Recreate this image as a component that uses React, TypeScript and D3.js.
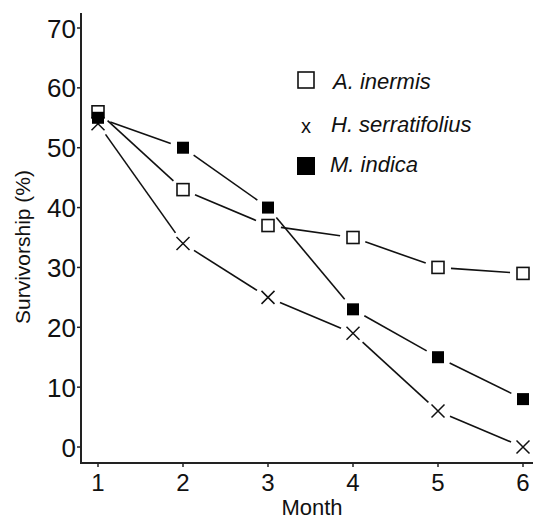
import React from "react";
import * as d3 from "d3";

const months = [1, 2, 3, 4, 5, 6];
const inermis = [56, 43, 37, 35, 30, 29];
const serratifolius = [54, 34, 25, 19, 6, 0];
const indica = [55, 50, 40, 23, 15, 8];
const yTicks = [0, 10, 20, 30, 40, 50, 60, 70];
const legendLabels = ["A. inermis", "H. serratifolius", "M. indica"];

const W = 533, H = 520;
const x = d3.scaleLinear().domain([1, 6]).range([98, 523]);
const y = d3.scaleLinear().domain([0, 70]).range([447, 28]);
const FONT = "Liberation Sans, Arial, sans-serif";

function segs(vals: number[], gap: number) {
  const out: [number, number, number, number][] = [];
  for (let i = 0; i < vals.length - 1; i++) {
    const x1 = x(months[i]), y1 = y(vals[i]);
    const x2 = x(months[i + 1]), y2 = y(vals[i + 1]);
    const dx = x2 - x1, dy = y2 - y1;
    const L = Math.hypot(dx, dy);
    const ux = dx / L, uy = dy / L;
    out.push([x1 + ux * gap, y1 + uy * gap, x2 - ux * gap, y2 - uy * gap]);
  }
  return out;
}

function Lines({ vals }: { vals: number[] }) {
  return (
    <g>
      {segs(vals, 13).map((s, i) => (
        <line key={i} x1={s[0]} y1={s[1]} x2={s[2]} y2={s[3]} stroke="#111" strokeWidth={1.6} />
      ))}
    </g>
  );
}

export default function App() {
  const s = 6;
  return (
    <svg width={W} height={H} style={{ position: "absolute", left: 0, top: 0, background: "#fff" }}>
      {/* axes */}
      <line x1={81} y1={13} x2={81} y2={463} stroke="#222" strokeWidth={2} />
      <line x1={80} y1={463} x2={533} y2={463} stroke="#222" strokeWidth={2} />
      {yTicks.map((t) => (
        <g key={t}>
          <line x1={77} x2={81} y1={y(t)} y2={y(t)} stroke="#222" strokeWidth={1.5} />
          <text x={76} y={y(t) + 9.5} textAnchor="end" fontFamily={FONT} fontSize={26} fill="#111">
            {t}
          </text>
        </g>
      ))}
      {months.map((m) => (
        <g key={m}>
          <line x1={x(m)} x2={x(m)} y1={463} y2={467} stroke="#222" strokeWidth={1.5} />
          <text x={x(m)} y={491} textAnchor="middle" fontFamily={FONT} fontSize={24} fill="#111">
            {m}
          </text>
        </g>
      ))}
      <text x={312} y={515} textAnchor="middle" fontFamily={FONT} fontSize={22} fill="#111">
        Month
      </text>
      <text
        transform={`translate(30,247) rotate(-90)`}
        textAnchor="middle"
        fontFamily={FONT}
        fontSize={21}
        fill="#111"
      >
        Survivorship (%)
      </text>

      {/* lines */}
      <Lines vals={inermis} />
      <Lines vals={serratifolius} />
      <Lines vals={indica} />

      {/* markers */}
      {inermis.map((v, i) => (
        <rect key={"a" + i} x={x(months[i]) - s} y={y(v) - s} width={2 * s} height={2 * s} fill="#fff" stroke="#111" strokeWidth={1.6} />
      ))}
      {serratifolius.map((v, i) => (
        <path
          key={"h" + i}
          d={`M${x(months[i]) - 6.5},${y(v) - 6.5}L${x(months[i]) + 6.5},${y(v) + 6.5}M${x(months[i]) - 6.5},${y(v) + 6.5}L${x(months[i]) + 6.5},${y(v) - 6.5}`}
          stroke="#111"
          strokeWidth={1.5}
          fill="none"
        />
      ))}
      {indica.map((v, i) => (
        <rect key={"m" + i} x={x(months[i]) - s} y={y(v) - s} width={2 * s} height={2 * s} fill="#000" />
      ))}

      {/* legend */}
      <rect x={298} y={72} width={16} height={16} fill="#fff" stroke="#111" strokeWidth={1.6} />
      <text x={306} y={133} textAnchor="middle" fontFamily={FONT} fontSize={20} fill="#111">x</text>
      <rect x={297} y={157} width={18} height={18} fill="#000" />
      {legendLabels.map((l, i) => (
        <text
          key={l}
          x={[333, 331, 330][i]}
          y={[89, 132, 172][i]}
          fontFamily={FONT}
          fontStyle="italic"
          fontSize={22}
          fill="#111"
        >
          {l}
        </text>
      ))}
    </svg>
  );
}
